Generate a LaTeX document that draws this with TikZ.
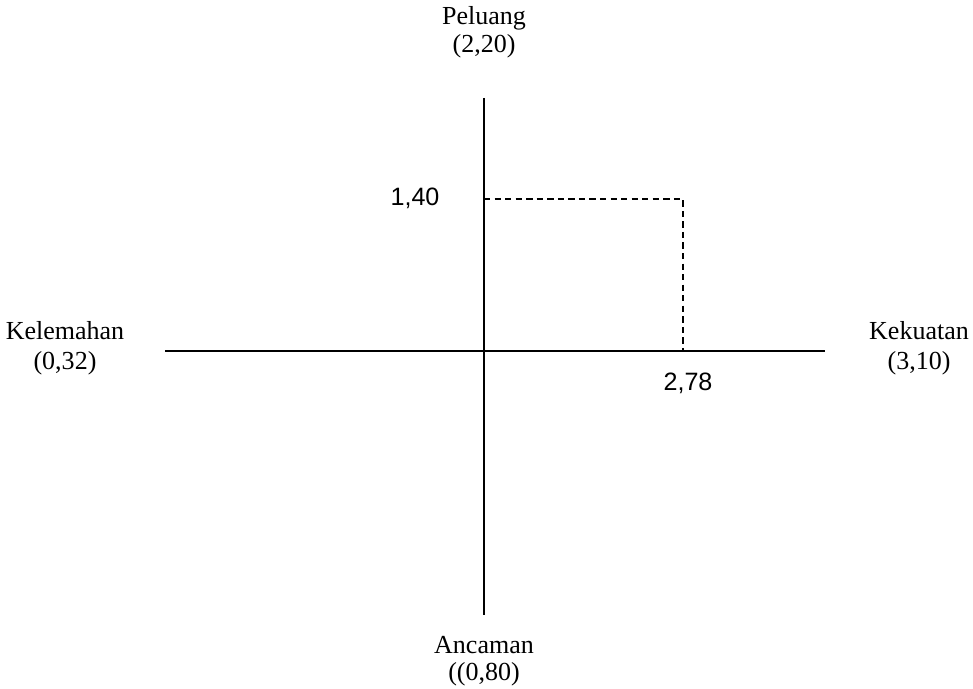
\documentclass[tikz,border=0pt]{standalone}
\usepackage{fontspec}
\setmainfont{Liberation Serif}
\newfontfamily\numfont{Liberation Sans}
\usetikzlibrary{positioning,calc}
\tikzset{
axisline/.style={line width=0.9pt,draw=black},
guideline/.style={line width=0.8pt,draw=black,dash pattern=on 3.6pt off 2.4pt},
quadlbl/.style={anchor=base,inner sep=0pt,font=\fontsize{14.8}{17}\selectfont},
vallbl/.style={anchor=base,inner sep=0pt,font=\numfont\fontsize{14.3}{17}\selectfont}
}
\begin{document}
\begin{tikzpicture}[x=0.02cm,y=-0.02cm]
\useasboundingbox (0,0) rectangle (973,689);
% axes
\coordinate (top) at (484,98);
\coordinate (bot) at (484,615);
\coordinate (lft) at (165,351);
\coordinate (rgt) at (825,351);
\coordinate (org) at (484,351);
\coordinate (oy) at (484,199);
\coordinate (cnr) at (683,199);
\coordinate (ox) at (683,351);
\draw[axisline] (top) -- (bot);
\draw[axisline] (lft) -- (rgt);
\draw[guideline] (oy) -- (cnr) -- (ox);
% quadrant labels
\node[quadlbl] (pel) at (484,25) {Peluang};
\node[quadlbl] (pelv) at (484,53) {(2,20)};
\node[quadlbl] (kel) at (65,339) {Kelemahan};
\node[quadlbl] (kelv) at (65,369) {(0,32)};
\node[quadlbl] (kek) at (919,339) {Kekuatan};
\node[quadlbl] (kekv) at (919,369) {(3,10)};
\node[quadlbl] (anc) at (484,653) {Ancaman};
\node[quadlbl] (ancv) at (484,680) {((0,80)};
% values
\node[vallbl] (vy) at (415,206) {1,40};
\node[vallbl] (vx) at (688,390) {2,78};
\end{tikzpicture}
\end{document}
